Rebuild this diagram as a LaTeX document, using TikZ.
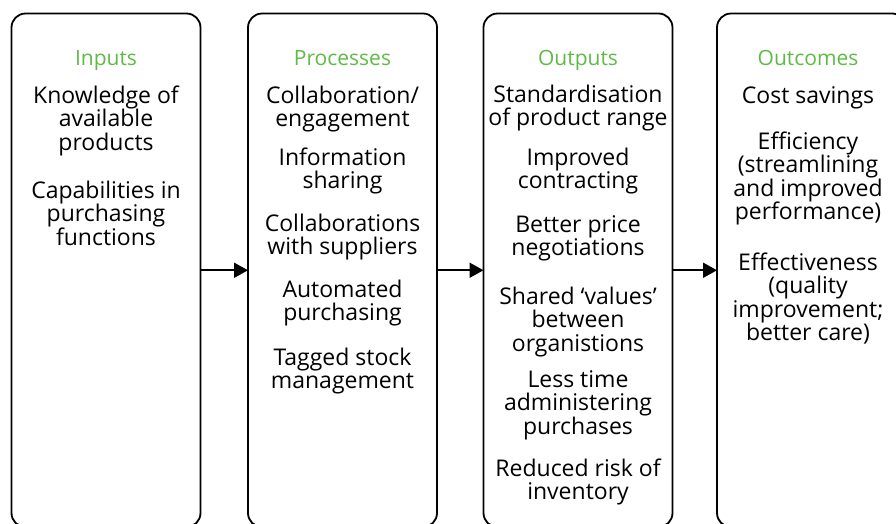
\documentclass[tikz,border=0pt]{standalone}
\usepackage{fontspec}
\setmainfont{Open Sans}
\usetikzlibrary{arrows.meta}
\definecolor{headgreen}{RGB}{95,185,70}
\tikzset{
  stage/.style={draw=black, line width=1.8pt, rounded corners=14pt,
    minimum width=189pt, minimum height=513.5pt, inner sep=0pt, outer sep=0pt},
  heading/.style={anchor=base, inner sep=0pt, text=headgreen,
    font=\fontsize{21}{24}\selectfont},
  % multi-line items are placed by the baseline of their last line
  item/.style={anchor=base, inner sep=0pt, align=center,
    font=\fontsize{23}{23.5}\selectfont},
  flow/.style={line width=1.8pt, -{Triangle[length=14pt,width=15pt]}}
}
\begin{document}
\begin{tikzpicture}[x=1pt,y=-1pt]
\useasboundingbox (0,0) rectangle (896,523);
\clip (0,0) rectangle (896,523);

% the four stage frames
\node[stage] (inputs)   at (106,270.25) {};
\node[stage] (process)  at (342.5,270.25) {};
\node[stage] (outputs)  at (578,270.25) {};
\node[stage] (outcomes) at (811.5,270.25) {};

% headings
\node[heading] (hin)  at (106,65)   {Inputs};
\node[heading] (hpr)  at (342.5,65) {Processes};
\node[heading] (hout) at (578,65)   {Outputs};
\node[heading] (hoc)  at (808,65)   {Outcomes};

% inputs
\node[item] (i1) at (106,150) {Knowledge of\\available\\products};
\node[item] (i2) at (106,245) {Capabilities in\\purchasing\\functions};

% processes
\node[item] (p1) at (342.5,126.5) {Collaboration/\\engagement};
\node[item] (p2) at (342.5,188.5) {Information\\sharing};
\node[item] (p3) at (342.5,254.5) {Collaborations\\with suppliers};
\node[item] (p4) at (342.5,320.5) {Automated\\purchasing};
\node[item] (p5) at (342.5,388.5) {Tagged stock\\management};

% outputs
\node[item] (o1) at (578,125.5) {Standardisation\\of product range};
\node[item] (o2) at (578,188.5) {Improved\\contracting};
\node[item] (o3) at (578,255.5) {Better price\\negotiations};
\node[item] (o4) at (578,351)   {Shared ‘values’\\between\\organistions};
\node[item] (o5) at (578,434)   {Less time\\administering\\purchases};
\node[item] (o6) at (578,499.5) {Reduced risk of\\inventory};

% outcomes
\node[item] (c1) at (808,103)   {Cost savings};
\node[item] (c2) at (808,219.5) {Efficiency\\(streamlining\\and improved\\performance)};
\node[item] (c3) at (808,340.5) {Effectiveness\\(quality\\improvement;\\better care)};

% flow between stages
\draw[flow] (inputs.east)  -- (process.west);
\draw[flow] (process.east) -- (outputs.west);
\draw[flow] (outputs.east) -- (outcomes.west);
\end{tikzpicture}
\end{document}
